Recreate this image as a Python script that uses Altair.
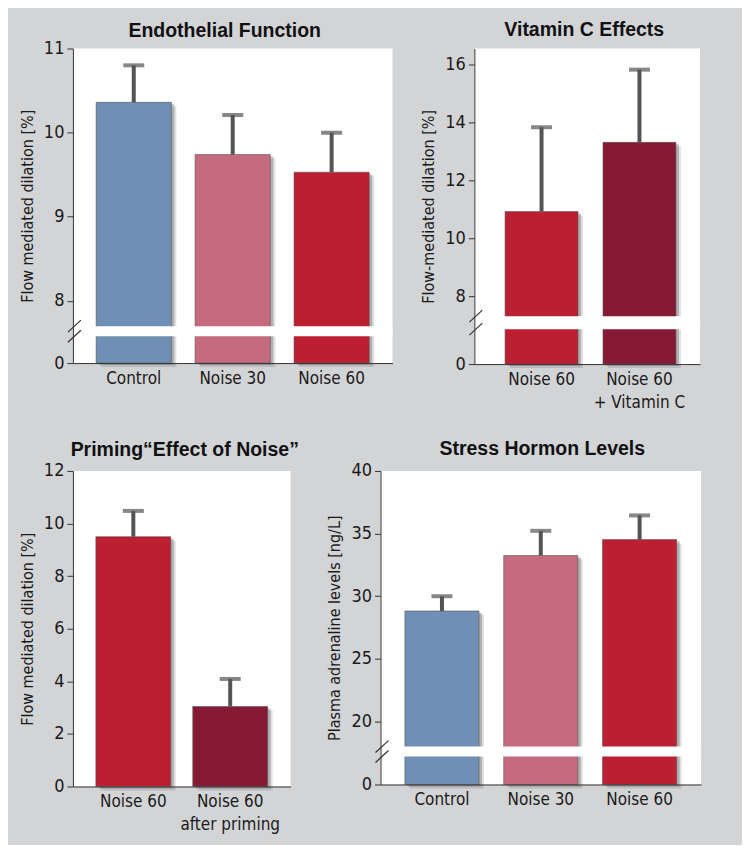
import altair as alt
import pandas as pd

# ---------------- data ----------------
endo_groups = ["Control", "Noise 30", "Noise 60"]
endo_means = [10.36, 9.74, 9.53]
endo_upper = [10.80, 10.21, 10.00]

vitc_groups = ["Noise 60", "Noise 60\n+ Vitamin C"]
vitc_means = [10.92, 13.31]
vitc_upper = [13.83, 15.82]

prim_groups = ["Noise 60", "Noise 60\nafter priming"]
prim_means = [9.50, 3.04]
prim_upper = [10.48, 4.09]

horm_groups = ["Control", "Noise 30", "Noise 60"]
horm_means = [28.82, 33.25, 34.52]
horm_upper = [30.0, 35.22, 36.45]

titles = ["Endothelial Function", "Vitamin C Effects",
          "Priming\u201cEffect of Noise\u201d", "Stress Hormon Levels"]
ytitles = ["Flow mediated dilation [%]", "Flow-mediated dilation [%]",
           "Flow mediated dilation [%]", "Plasma adrenaline levels [ng/L]"]

# ---------------- style ----------------
BLUE = "#6f90b4"
PINK = "#c56a7f"
RED = "#bc1f32"
DARK = "#861a34"
BG = "#d3d4d6"
ERR = "#545454"
LABEL_FONT = "DejaVu Sans Condensed, Liberation Sans Narrow, sans-serif"
TITLE_FONT = "Liberation Sans, Arial, sans-serif"


def panel(groups, means, upper, colors, title, ytitle, ydomain, yrange, yticks,
          width, height, pad_in, pad_out, title_x, title_y, align=0.5, gap=None):
    df = pd.DataFrame({"group": groups, "mean": means, "upper": upper})
    xscale = alt.Scale(domain=groups, paddingInner=pad_in, paddingOuter=pad_out, align=align)
    yscale_kw = dict(domain=ydomain, zero=False, nice=False)
    if yrange is not None:
        yscale_kw["range"] = yrange
    yscale = alt.Scale(**yscale_kw)

    x = alt.X("group:N", scale=xscale, sort=groups, title=None,
              axis=alt.Axis(labelAngle=0, ticks=False, labelFont=LABEL_FONT, labelFontSize=17,
                            labelColor="#1a1a1a", labelPadding=7, domainColor="#333333",
                            labelLineHeight=23, zindex=1,
                            labelExpr="split(datum.label, '\\n')"))
    y = alt.Y("mean:Q", scale=yscale, title=ytitle,
              axis=alt.Axis(values=yticks, grid=False, tickSize=6, tickColor="#333333",
                            domainColor="#333333", labelFont=LABEL_FONT, labelFontSize=18,
                            labelColor="#1a1a1a", labelPadding=3, titleFont=LABEL_FONT,
                            titleFontSize=16, titleFontWeight="normal", titleColor="#1a1a1a",
                            titlePadding=8, zindex=1))

    base = alt.Chart(df)
    shadow2 = base.mark_bar(color="#555555", opacity=0.18, xOffset=5, x2Offset=5,
                            yOffset=4, y2Offset=4).encode(x=x, y=y, y2=alt.datum(0))
    shadow1 = base.mark_bar(color="#555555", opacity=0.35, xOffset=3, x2Offset=3,
                            yOffset=2, y2Offset=2).encode(x=x, y=y, y2=alt.datum(0))
    bars = base.mark_bar(stroke="#555555", strokeWidth=1, strokeOpacity=0.6).encode(
        x=x, y=y, y2=alt.datum(0),
        color=alt.Color("group:N", scale=alt.Scale(domain=groups, range=colors), legend=None))
    layers = [shadow2, shadow1, bars]
    if gap is not None:
        glo, ghi = gap
        gap_rect = alt.Chart().mark_rect(color="white").encode(
            x=alt.value(1), x2=alt.value(width), y=alt.datum(ghi), y2=alt.datum(glo))
        slash_hi = alt.Chart().mark_rule(color="#333333", strokeWidth=1.2, yOffset=6, y2Offset=-6).encode(
            x=alt.value(-5), x2=alt.value(8), y=alt.datum(ghi), y2=alt.datum(ghi))
        slash_lo = alt.Chart().mark_rule(color="#333333", strokeWidth=1.2, yOffset=6, y2Offset=-6).encode(
            x=alt.value(-5), x2=alt.value(8), y=alt.datum(glo), y2=alt.datum(glo))
        layers += [gap_rect, slash_hi, slash_lo]
    err = base.mark_rule(color=ERR, strokeWidth=4).encode(x=x, y=y, y2="upper:Q")
    cap = base.mark_tick(color=ERR, thickness=4, size=21).encode(x=x, y=alt.Y("upper:Q"))
    head = alt.Chart().mark_text(text=title, font=TITLE_FONT, fontSize=19.5, fontWeight="bold",
                                 color="#111111", align="center", baseline="alphabetic").encode(
        x=alt.value(title_x), y=alt.value(title_y))
    layers += [err, cap, head]
    return alt.layer(*layers).properties(width=width, height=height)


p1 = panel(endo_groups, endo_means, endo_upper, [BLUE, PINK, RED], titles[0], ytitles[0],
           [0, 7.7, 11], [315, 278, 0], [0, 8, 9, 10, 11],
           320, 315, 0.24, 0.235, 152, -12, gap=(5.6, 7.7))
p2 = panel(vitc_groups, vitc_means, vitc_upper, [RED, DARK], titles[1], ytitles[1],
           [0, 7.31, 16.55], [316, 268, 0], [0, 8, 10, 12, 14, 16],
           226, 316, 0.255, 0.28, 110, -13, align=0.56, gap=(5.33, 7.31))
p3 = panel(prim_groups, prim_means, prim_upper, [RED, DARK], titles[2], ytitles[2],
           [0, 12], None, [0, 2, 4, 6, 8, 10, 12],
           218, 316, 0.227, 0.237, 112, -15)
p4 = panel(horm_groups, horm_means, horm_upper, [BLUE, PINK, RED], titles[3], ytitles[3],
           [0, 18, 40], [314, 276, 0], [0, 20, 25, 30, 35, 40],
           321, 314, 0.25, 0.247, 162, -16, gap=(13.26, 18))

row1 = alt.hconcat(p1, p2, spacing=82, bounds="flush").resolve_scale(color="independent", x="independent", y="independent")
row2 = alt.hconcat(p3, p4, spacing=90, bounds="flush").resolve_scale(color="independent", x="independent", y="independent")
chart = alt.vconcat(row1, row2, spacing=29).resolve_scale(
    color="independent", x="independent", y="independent"
).properties(
    background=BG, padding={"left": 11, "top": 11, "right": 41, "bottom": 12}
).configure_view(fill="white", stroke=None)

chart.save("out.html", embed_options={"renderer": "svg", "actions": False})
